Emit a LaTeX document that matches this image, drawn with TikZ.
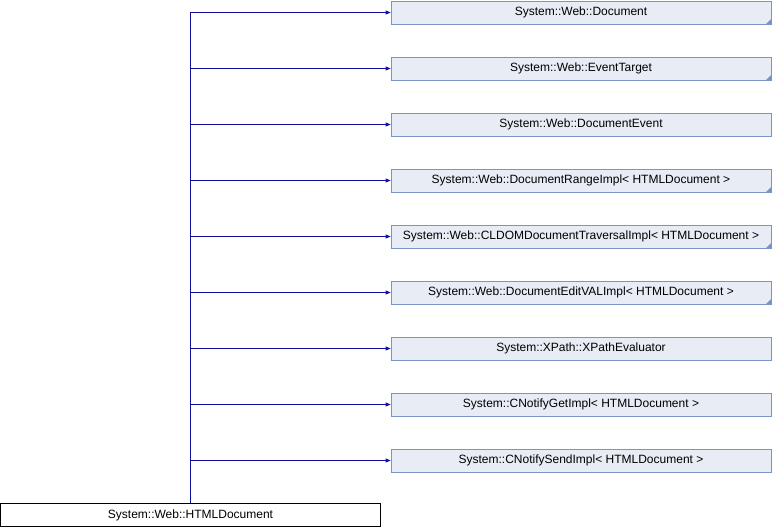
\documentclass[tikz,border=0pt]{standalone}
\usepackage{fontspec}
\setmainfont{Liberation Sans}
\usepackage{xcolor}
\usetikzlibrary{arrows.meta,positioning}
\definecolor{dxfill}{HTML}{E8ECF5}
\definecolor{dxdraw}{HTML}{7C93C8}
\definecolor{dxline}{HTML}{10109C}

\begin{document}
\begin{tikzpicture}[x=1pt,y=-1pt,
  node distance=32.2pt,
  cls/.style={draw,rectangle,minimum width=380pt,minimum height=23pt,inner sep=0pt,font=\fontsize{12}{14}\selectfont,line width=0.8pt},
  base/.style={cls,fill=dxfill,draw=dxdraw},
  derived/.style={cls,fill=white,draw=black},
  more/.style={path picture={\fill[dxdraw] (path picture bounding box.south east) -- ++(-5pt,0pt) -- ++(5pt,5pt) -- cycle;}},
  arr/.style={-{Triangle[length=5pt,width=4pt]},draw=dxline,line width=0.8pt}
]
\useasboundingbox (0,0) rectangle (772,528);

% Base classes (right column)
\node[base,more] (doc) at (581,12.5) {System::Web::Document};
\node[base,more,below=of doc] (evt) {System::Web::EventTarget};
\node[base,below=of evt] (devt) {System::Web::DocumentEvent};
\node[base,more,below=of devt] (range) {System::Web::DocumentRangeImpl< HTMLDocument >};
\node[base,more,below=of range] (trav) {System::Web::CLDOMDocumentTraversalImpl< HTMLDocument >};
\node[base,more,below=of trav] (edit) {System::Web::DocumentEditVALImpl< HTMLDocument >};
\node[base,below=of edit] (xpath) {System::XPath::XPathEvaluator};
\node[base,below=of xpath] (nget) {System::CNotifyGetImpl< HTMLDocument >};
\node[base,below=of nget] (nsend) {System::CNotifySendImpl< HTMLDocument >};

% Derived class (bottom left)
\node[derived] (html) at (190.5,515) {System::Web::HTMLDocument};

% Inheritance arrows
\draw[arr] (html.north) |- (doc.west);
\draw[arr] (html.north) |- (evt.west);
\draw[arr] (html.north) |- (devt.west);
\draw[arr] (html.north) |- (range.west);
\draw[arr] (html.north) |- (trav.west);
\draw[arr] (html.north) |- (edit.west);
\draw[arr] (html.north) |- (xpath.west);
\draw[arr] (html.north) |- (nget.west);
\draw[arr] (html.north) |- (nsend.west);

\end{tikzpicture}
\end{document}
